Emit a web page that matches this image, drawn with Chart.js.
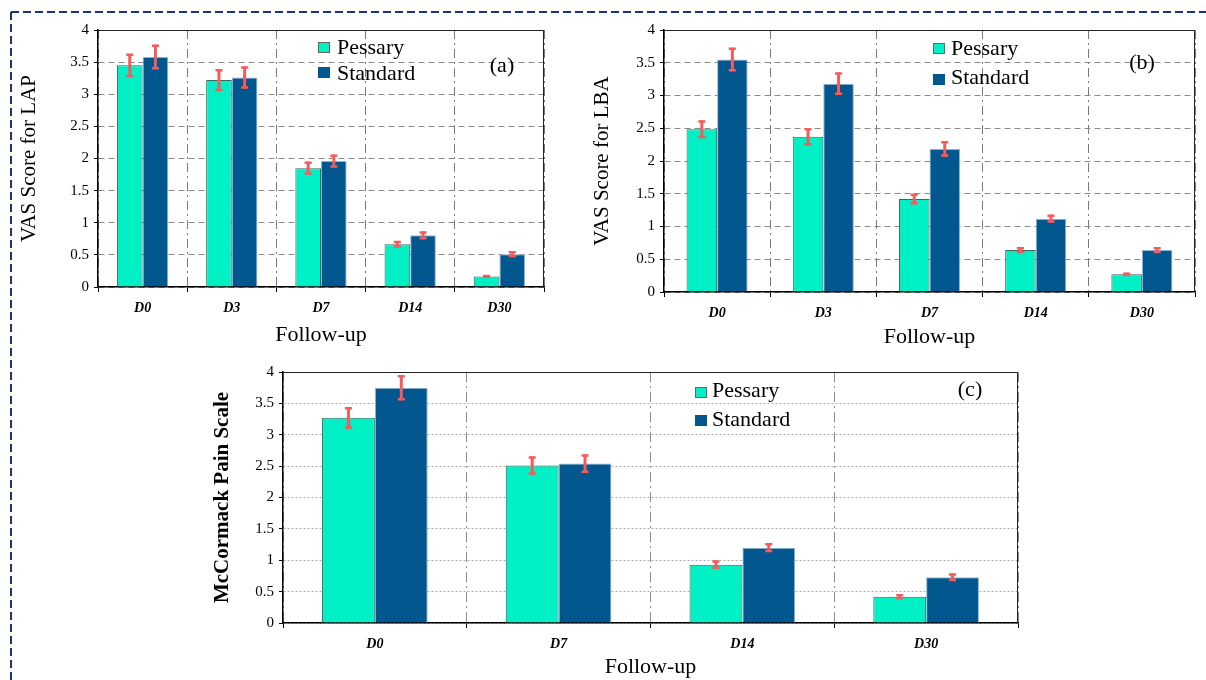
<!DOCTYPE html>
<html>
<head>
<meta charset="utf-8">
<script src="https://cdn.jsdelivr.net/npm/chart.js@4.4.1/dist/chart.umd.min.js"></script>
<style>
  html, body { margin: 0; padding: 0; background: #fff; }
  #page { position: relative; width: 1206px; height: 680px; overflow: hidden; background: #fff; }
  #page canvas { position: absolute; }
  #frame { position: absolute; left: 0; top: 0; }
</style>
</head>
<body>
<div id="page">
  <svg id="frame" width="1206" height="680">
    <line x1="11" y1="12" x2="1206" y2="12" stroke="#1c3572" stroke-width="2" stroke-dasharray="8 4"/>
    <line x1="11" y1="12" x2="11" y2="680" stroke="#1c3572" stroke-width="2" stroke-dasharray="8 4"/>
  </svg>
  <canvas id="chartLAP" width="560" height="333" style="left:14px;top:16px"></canvas>
  <canvas id="chartLBA" width="616" height="336" style="left:590px;top:16px"></canvas>
  <canvas id="chartMcC" width="830" height="322" style="left:200px;top:358px"></canvas>
</div>
<script>
// panel (a) VAS for LAP
const followUpA = ["D0", "D3", "D7", "D14", "D30"];
const lapPessary = [3.45, 3.22, 1.85, 0.665, 0.165];
const lapPessaryErr = [0.18, 0.17, 0.10, 0.05, 0.02];
const lapStandard = [3.58, 3.26, 1.96, 0.805, 0.51];
const lapStandardErr = [0.19, 0.17, 0.10, 0.06, 0.045];

// panel (b) VAS for LBA
const lbaPessary = [2.485, 2.37, 1.42, 0.64, 0.27];
const lbaPessaryErr = [0.135, 0.13, 0.08, 0.045, 0.025];
const lbaStandard = [3.55, 3.18, 2.185, 1.12, 0.64];
const lbaStandardErr = [0.18, 0.17, 0.115, 0.06, 0.045];

// panel (c) McCormack pain scale
const followUpC = ["D0", "D7", "D14", "D30"];
const mcPessary = [3.27, 2.51, 0.93, 0.42];
const mcPessaryErr = [0.17, 0.145, 0.065, 0.04];
const mcStandard = [3.75, 2.54, 1.20, 0.73];
const mcStandardErr = [0.20, 0.145, 0.07, 0.06];

const yTickValues = [0, 0.5, 1, 1.5, 2, 2.5, 3, 3.5, 4];
const seriesNames = ["Pessary", "Standard"];

const pessaryColor = "#00f0c6";
const standardColor = "#02578f";
const serif = "'Liberation Serif', 'DejaVu Serif', serif";

Chart.defaults.font.family = serif;
Chart.defaults.color = "#000";

// error bars, top/right frame, legend box and panel letter
const extras = {
  id: "extras",
  afterDatasetsDraw(chart, args, opts) {
    const ctx = chart.ctx;
    const yScale = chart.scales.y;
    const area = chart.chartArea;

    ctx.save();
    ctx.strokeStyle = "#222";
    ctx.lineWidth = 1;
    ctx.beginPath();
    ctx.moveTo(area.left, Math.round(area.top) + 0.5);
    ctx.lineTo(Math.round(area.right) - 0.5, Math.round(area.top) + 0.5);
    ctx.lineTo(Math.round(area.right) - 0.5, area.bottom);
    ctx.stroke();
    ctx.restore();

    chart.data.datasets.forEach((ds, i) => {
      const meta = chart.getDatasetMeta(i);
      meta.data.forEach((bar, j) => {
        const v = ds.data[j];
        const e = ds.errors[j];
        const top = yScale.getPixelForValue(v + e);
        const bot = yScale.getPixelForValue(v - e);
        ctx.save();
        ctx.strokeStyle = "#f65b5b";
        ctx.lineWidth = 3;
        ctx.beginPath();
        ctx.moveTo(bar.x, top);
        ctx.lineTo(bar.x, bot);
        ctx.stroke();
        ctx.lineWidth = 2.5;
        ctx.beginPath();
        ctx.moveTo(bar.x - 3.5, top + 1);
        ctx.lineTo(bar.x + 3.5, top + 1);
        ctx.moveTo(bar.x - 3.5, bot - 1);
        ctx.lineTo(bar.x + 3.5, bot - 1);
        ctx.stroke();
        ctx.restore();
      });
    });

    const lg = opts.legend;
    ctx.save();
    ctx.font = "22px " + serif;
    ctx.textBaseline = "alphabetic";
    ctx.textAlign = "left";
    chart.data.datasets.forEach((ds, i) => {
      const sy = lg.boxY[i];
      ctx.fillStyle = ds.backgroundColor;
      ctx.fillRect(lg.x, sy, 12, 11);
      if (i === 0) {
        ctx.strokeStyle = "#666";
        ctx.lineWidth = 1;
        ctx.strokeRect(lg.x + 0.5, sy + 0.5, 11, 10);
      }
      ctx.fillStyle = "#000";
      ctx.fillText(ds.label, lg.textX, lg.baseY[i]);
    });
    ctx.textAlign = "center";
    ctx.textBaseline = "middle";
    ctx.fillText(opts.panel.text, opts.panel.x, opts.panel.y);
    ctx.restore();
  }
};

function makeChart(id, labels, pessary, pessaryErr, standard, standardErr, cfg) {
  const canvas = document.getElementById(id);
  return new Chart(canvas, {
    type: "bar",
    data: {
      labels: labels,
      datasets: [
        {
          label: seriesNames[0],
          data: pessary,
          errors: pessaryErr,
          backgroundColor: pessaryColor,
          borderColor: "#3d6661",
          borderWidth: 1
        },
        {
          label: seriesNames[1],
          data: standard,
          errors: standardErr,
          backgroundColor: standardColor,
          borderColor: "#8db6d4",
          borderWidth: 1
        }
      ]
    },
    options: {
      responsive: false,
      animation: false,
      events: [],
      categoryPercentage: 0.575,
      barPercentage: 1,
      layout: { padding: { top: cfg.padTop, right: cfg.padRight, left: 0, bottom: 0 } },
      plugins: {
        legend: { display: false },
        tooltip: { enabled: false },
        extras: { legend: cfg.legend, panel: cfg.panel }
      },
      scales: {
        x: {
          offset: true,
          afterFit: (axis) => { axis.height = cfg.xHeight; },
          grid: {
            offset: true,
            color: cfg.vGridColor,
            lineWidth: 1,
            tickLength: 5,
            tickColor: "#000"
          },
          border: { display: true, color: "#000", width: 1.5, dash: cfg.vDash },
          ticks: {
            padding: 8,
            font: { size: 14, style: "italic", weight: "bold" },
            color: "#000"
          },
          title: {
            display: true,
            text: "Follow-up",
            font: { size: 22, lineHeight: 1.2 },
            padding: { top: 0, bottom: cfg.xTitlePad },
            color: "#000"
          }
        },
        y: {
          min: 0,
          max: 4,
          afterFit: (axis) => { axis.width = cfg.yWidth; },
          afterBuildTicks: (axis) => {
            axis.ticks = yTickValues.map(v => ({ value: v }));
          },
          grid: {
            color: cfg.hGridColor,
            lineWidth: 1,
            tickLength: 4,
            tickColor: "#000"
          },
          border: { display: true, color: "#000", width: 1.5, dash: cfg.hDash },
          ticks: {
            padding: 5,
            font: { size: 15 },
            color: "#000",
            callback: (v) => String(v)
          },
          title: {
            display: true,
            text: cfg.yTitle,
            font: { size: cfg.yTitleSize, weight: cfg.yTitleWeight, lineHeight: 1.2 },
            padding: { top: cfg.yTitlePad, bottom: 0 },
            color: "#000"
          }
        }
      }
    },
    plugins: [extras]
  });
}

makeChart("chartLAP", followUpA, lapPessary, lapPessaryErr, lapStandard, lapStandardErr, {
  padTop: 14, padRight: 30, yWidth: 84, xHeight: 62,
  xTitlePad: 1, yTitlePad: 3,
  yTitle: "VAS Score for LAP", yTitleSize: 21, yTitleWeight: "normal",
  hGridColor: "#8a8a8a", hDash: [6, 4],
  vGridColor: "#7a7a7a", vDash: [9, 4, 2, 4],
  legend: { x: 304, boxY: [26, 51], textX: 323, baseY: [38, 64] },
  panel: { text: "(a)", x: 488, y: 50 }
});

makeChart("chartLBA", followUpA, lbaPessary, lbaPessaryErr, lbaStandard, lbaStandardErr, {
  padTop: 14, padRight: 11, yWidth: 74, xHeight: 60,
  xTitlePad: 2, yTitlePad: 0,
  yTitle: "VAS Score for LBA", yTitleSize: 21, yTitleWeight: "normal",
  hGridColor: "#8a8a8a", hDash: [6, 4],
  vGridColor: "#7a7a7a", vDash: [9, 4, 2, 4],
  legend: { x: 343, boxY: [27, 58], textX: 361, baseY: [39, 68] },
  panel: { text: "(b)", x: 552, y: 47 }
});

makeChart("chartMcC", followUpC, mcPessary, mcPessaryErr, mcStandard, mcStandardErr, {
  padTop: 14, padRight: 12, yWidth: 83, xHeight: 57,
  xTitlePad: 0, yTitlePad: 10,
  yTitle: "McCormack Pain Scale", yTitleSize: 21, yTitleWeight: "bold",
  hGridColor: "#aaaaaa", hDash: [2, 2],
  vGridColor: "#8c8c8c", vDash: [10, 4, 2, 4],
  legend: { x: 495, boxY: [29, 57], textX: 512, baseY: [39, 68] },
  panel: { text: "(c)", x: 770, y: 32 }
});
</script>
</body>
</html>
